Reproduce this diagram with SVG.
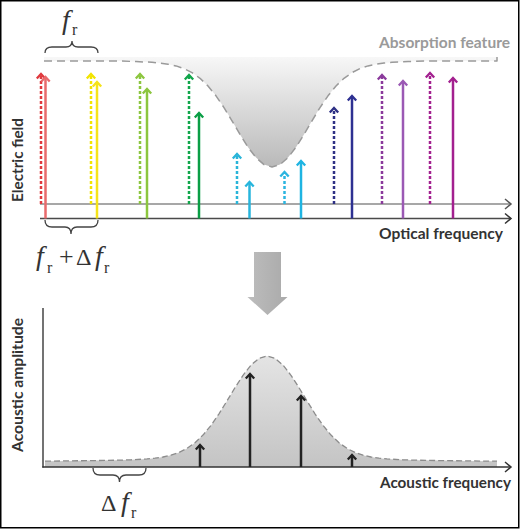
<svg xmlns="http://www.w3.org/2000/svg" xmlns:xlink="http://www.w3.org/1999/xlink" width="520" height="529" viewBox="0 0 520 529">
<style>
.lbl{font-family:Lato,"Open Sans","Liberation Sans",sans-serif;font-weight:700;font-size:14.5px;fill:#333}
.math{font-family:"Liberation Serif","DejaVu Serif",serif;fill:#333}
.it{font-style:italic}
.dot{stroke-width:2.5;stroke-dasharray:3 2;fill:none}
.sol{stroke-width:2.5;fill:none}
.head{fill:none;stroke-width:2.3;stroke-linejoin:miter;stroke-linecap:butt}
.brace{fill:none;stroke:#444;stroke-width:1.3}
</style>
<defs>
<path id="ah" d="M-4.2,5.5 L0,1 L4.2,5.5"/>
<path id="chev" d="M-6,-5 L0,0 L-6,5"/>
<linearGradient id="absg" gradientUnits="userSpaceOnUse" x1="0" y1="57" x2="0" y2="167">
<stop offset="0" stop-color="#f7f7f7"/><stop offset="1" stop-color="#b9b9b9"/>
</linearGradient>
<linearGradient id="acg" gradientUnits="userSpaceOnUse" x1="0" y1="356" x2="0" y2="467">
<stop offset="0" stop-color="#e4e4e4"/><stop offset="1" stop-color="#c4c4c4"/>
</linearGradient>
<linearGradient id="bigg" x1="0" y1="0" x2="1" y2="0">
<stop offset="0" stop-color="#bdbdbd"/><stop offset="1" stop-color="#aaaaaa"/>
</linearGradient>
</defs>

<rect x="0.75" y="0.75" width="518" height="527" fill="#fff" stroke="#000" stroke-width="1.5"/>

<!-- absorption feature -->
<g id="absorption">
<polygon fill="url(#absg)" points="44,57 44,61 120,61 136,61.6 152,62.3 160,63.1 168,64.2 176,65.9 184,68.6 192,72.6 200,78.3 208,86 216,95.8 224,107.6 232,120.8 240,134.4 248,147.2 256,157.6 264,164.6 272,167 280,164.6 288,157.6 296,147.2 304,134.4 312,120.8 320,107.6 328,95.8 336,86 344,78.3 352,72.6 360,68.6 368,65.9 376,64.2 384,63.1 392,62.3 408,61.6 424,61 497,61 497,57"/>
<polyline fill="none" stroke="#9a9a9a" stroke-width="1.5" stroke-dasharray="8 5" stroke-linejoin="round" points="44,61 120,61 136,61.6 152,62.3 160,63.1 168,64.2 176,65.9 184,68.6 192,72.6 200,78.3 208,86 216,95.8 224,107.6 232,120.8 240,134.4 248,147.2 256,157.6 264,164.6 272,167 280,164.6 288,157.6 296,147.2 304,134.4 312,120.8 320,107.6 328,95.8 336,86 344,78.3 352,72.6 360,68.6 368,65.9 376,64.2 384,63.1 392,62.3 408,61.6 424,61 497,61 497,57"/>
<text class="lbl" x="510" y="48" text-anchor="end" style="fill:#9a9a9a" textLength="131" lengthAdjust="spacingAndGlyphs">Absorption feature</text>
</g>

<!-- top axes -->
<g id="optical-axes">
<line x1="40" y1="204" x2="511" y2="204" stroke="#8a8a8a" stroke-width="1.5"/>
<use xlink:href="#chev" x="511" y="204" fill="none" stroke="#555" stroke-width="1.5"/>
<line x1="40" y1="218.5" x2="511" y2="218.5" stroke="#4a4a4a" stroke-width="1.5"/>
<use xlink:href="#chev" x="511" y="218.5" fill="none" stroke="#333" stroke-width="1.5"/>
<text class="lbl" x="503" y="239" text-anchor="end" textLength="124" lengthAdjust="spacingAndGlyphs">Optical frequency</text>
<text class="lbl" transform="translate(23,202) rotate(-90)" textLength="84" lengthAdjust="spacingAndGlyphs">Electric field</text>
</g>

<!-- comb lines: dotted (reference) and solid (transmitted) -->
<g id="comb-lines">
<g stroke="#e0393e"><line class="dot" x1="41" y1="204" x2="41" y2="74"/><use class="head" xlink:href="#ah" x="41" y="73"/></g>
<g stroke="#e86a6c"><line class="sol" x1="45.5" y1="218.5" x2="45.5" y2="77"/><use class="head" xlink:href="#ah" x="45.5" y="76"/></g>

<g stroke="#f2e400"><line class="dot" x1="91" y1="204" x2="91" y2="74"/><use class="head" xlink:href="#ah" x="91" y="73"/></g>
<g stroke="#f5e31a"><line class="sol" x1="97" y1="218.5" x2="97" y2="82"/><use class="head" xlink:href="#ah" x="97" y="81"/></g>

<g stroke="#8cc63f"><line class="dot" x1="140" y1="204" x2="140" y2="74"/><use class="head" xlink:href="#ah" x="140" y="73"/></g>
<g stroke="#8cc63f"><line class="sol" x1="147" y1="218.5" x2="147" y2="89"/><use class="head" xlink:href="#ah" x="147" y="88"/></g>

<g stroke="#11a64b"><line class="dot" x1="189" y1="204" x2="189" y2="75"/><use class="head" xlink:href="#ah" x="189" y="74"/></g>
<g stroke="#0a9e45"><line class="sol" x1="199" y1="218.5" x2="199" y2="113"/><use class="head" xlink:href="#ah" x="199" y="112"/></g>

<g stroke="#29b5d9"><line class="dot" x1="237" y1="204" x2="237" y2="154"/><use class="head" xlink:href="#ah" x="237" y="153"/></g>
<g stroke="#27b5dc"><line class="sol" x1="249.5" y1="218.5" x2="249.5" y2="182"/><use class="head" xlink:href="#ah" x="249.5" y="181"/></g>

<g stroke="#2bb5e0"><line class="dot" x1="284.5" y1="204" x2="284.5" y2="172"/><use class="head" xlink:href="#ah" x="284.5" y="171"/></g>
<g stroke="#1fb4e2"><line class="sol" x1="301" y1="218.5" x2="301" y2="161"/><use class="head" xlink:href="#ah" x="301" y="160"/></g>

<g stroke="#2e3085"><line class="dot" x1="334" y1="204" x2="334" y2="108"/><use class="head" xlink:href="#ah" x="334" y="107"/></g>
<g stroke="#2e3192"><line class="sol" x1="352" y1="218.5" x2="352" y2="96"/><use class="head" xlink:href="#ah" x="352" y="95"/></g>

<g stroke="#8b3a9c"><line class="dot" x1="382" y1="204" x2="382" y2="75"/><use class="head" xlink:href="#ah" x="382" y="74"/></g>
<g stroke="#9b59b4"><line class="sol" x1="403" y1="218.5" x2="403" y2="81"/><use class="head" xlink:href="#ah" x="403" y="80"/></g>

<g stroke="#a3208f"><line class="dot" x1="430" y1="204" x2="430" y2="73"/><use class="head" xlink:href="#ah" x="430" y="72"/></g>
<g stroke="#a3208f"><line class="sol" x1="453" y1="218.5" x2="453" y2="78"/><use class="head" xlink:href="#ah" x="453" y="77"/></g>
</g>

<!-- f_r label -->
<g id="label-fr">
<path class="brace" d="M45,53 Q45,47 52,47 L66,47 Q72,47 72,41 Q72,47 78,47 L91,47 Q98,47 98,53"/>
<text class="math it" x="62" y="29" font-size="28">f</text>
<text class="math" x="72" y="35" font-size="16">r</text>
</g>

<!-- f_r + Δf_r label -->
<g id="label-fr-dfr">
<path class="brace" d="M45,220 Q45,227 52,227 L65,227 Q71,227 71,234 Q71,227 77,227 L91,227 Q98,227 98,220"/>
<text class="math it" x="36" y="265" font-size="28">f</text>
<text class="math" x="47" y="273" font-size="16">r</text>
<text class="math" x="59" y="265" font-size="26">+</text>
<text class="math" x="76" y="265" font-size="24">Δ</text>
<text class="math it" x="95" y="265" font-size="28">f</text>
<text class="math" x="104" y="273" font-size="16">r</text>
</g>

<!-- big arrow -->
<g id="transform-arrow">
<polygon fill="url(#bigg)" points="254,252 281,252 281,297 287.5,297 267.5,315 247.5,297 254,297"/>
</g>

<!-- acoustic panel -->
<g id="acoustic">
<polygon fill="url(#acg)" points="45,467 45,461.2 67,460.9 91,460.6 115,460.25 131,459.8 147,458.9 155,458.2 163,457 171,455.2 179,452.45 187,448.4 195,442.7 203,435.05 211,425.4 219,413.8 227,400.9 235,387.7 243,375.3 251,365.1 259,358.35 267,356 275,358.35 283,365.1 291,375.3 299,387.7 307,400.9 315,413.8 323,425.4 331,435.05 339,442.7 347,448.4 355,452.45 363,455.2 371,457 379,458.2 387,458.9 403,459.8 419,460.25 443,460.6 467,460.9 497,461.2 497,467"/>
<polyline fill="none" stroke="#8c8c8c" stroke-width="1.3" stroke-dasharray="6 3" stroke-linejoin="round" points="45,461.2 67,460.9 91,460.6 115,460.25 131,459.8 147,458.9 155,458.2 163,457 171,455.2 179,452.45 187,448.4 195,442.7 203,435.05 211,425.4 219,413.8 227,400.9 235,387.7 243,375.3 251,365.1 259,358.35 267,356 275,358.35 283,365.1 291,375.3 299,387.7 307,400.9 315,413.8 323,425.4 331,435.05 339,442.7 347,448.4 355,452.45 363,455.2 371,457 379,458.2 387,458.9 403,459.8 419,460.25 443,460.6 467,460.9 497,461.2"/>
<line x1="43" y1="308" x2="43" y2="467.5" stroke="#444" stroke-width="1.5"/>
<line x1="42.25" y1="467" x2="511" y2="467" stroke="#333" stroke-width="1.5"/>
<use xlink:href="#chev" x="511" y="467" fill="none" stroke="#333" stroke-width="1.5"/>
<text class="lbl" x="511" y="488" text-anchor="end" textLength="131" lengthAdjust="spacingAndGlyphs">Acoustic frequency</text>
<text class="lbl" transform="translate(23,452) rotate(-90)" textLength="134" lengthAdjust="spacingAndGlyphs">Acoustic amplitude</text>
<g stroke="#222"><line class="sol" x1="200" y1="467" x2="200" y2="445"/><use class="head" xlink:href="#ah" x="200" y="444"/></g>
<g stroke="#222"><line class="sol" x1="250" y1="467" x2="250" y2="374"/><use class="head" xlink:href="#ah" x="250" y="373"/></g>
<g stroke="#222"><line class="sol" x1="301" y1="467" x2="301" y2="396"/><use class="head" xlink:href="#ah" x="301" y="395"/></g>
<g stroke="#222"><line class="sol" x1="352" y1="467" x2="352" y2="455"/><use class="head" xlink:href="#ah" x="352" y="454"/></g>
</g>

<!-- Δf_r label -->
<g id="label-dfr">
<path class="brace" d="M93,468 Q93,475 100,475 L113,475 Q119.5,475 119.5,482 Q119.5,475 126,475 L139,475 Q146,475 146,468"/>
<text class="math" x="101" y="511" font-size="24">Δ</text>
<text class="math it" x="121" y="511" font-size="28">f</text>
<text class="math" x="131" y="518" font-size="16">r</text>
</g>
</svg>
